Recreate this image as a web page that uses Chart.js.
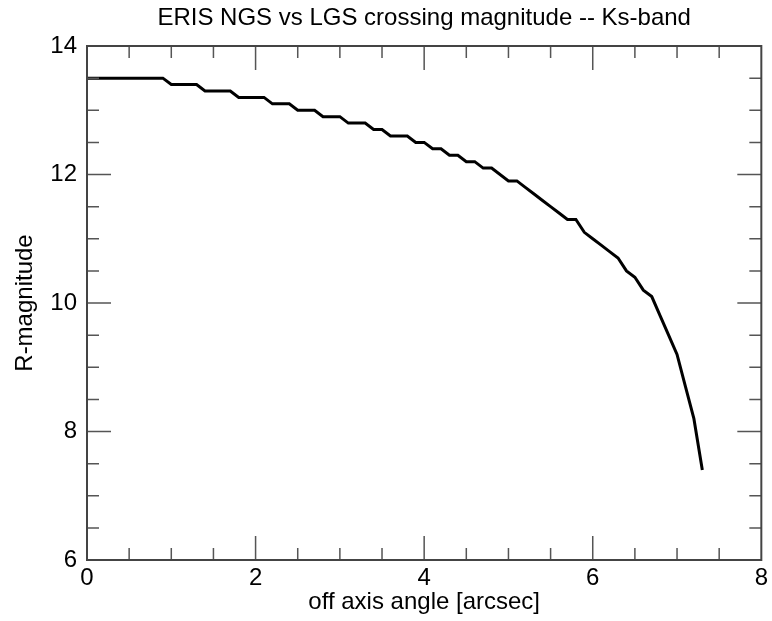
<!DOCTYPE html>
<html>
<head>
<meta charset="utf-8">
<script src="https://cdn.jsdelivr.net/npm/chart.js@4.4.1/dist/chart.umd.min.js"></script>
<style>
  html, body { margin: 0; padding: 0; background: #ffffff; }
  canvas { display: block; }
</style>
</head>
<body>
<canvas id="c" width="772" height="621"></canvas>
<script>
// ---- Data ----
const chartTitle = "ERIS NGS vs LGS crossing magnitude -- Ks-band";
const xAxisTitle = "off axis angle [arcsec]";
const yAxisTitle = "R-magnitude";

const offAxisAngle = [0, 0.9, 1.0, 1.3, 1.4, 1.7, 1.8, 2.1, 2.2, 2.4, 2.5, 2.7, 2.8, 3.0, 3.1, 3.3, 3.4, 3.5, 3.6, 3.8,
  3.9, 4.0, 4.1, 4.2, 4.3, 4.4, 4.5, 4.6, 4.7, 4.8, 5.0, 5.1, 5.2, 5.3, 5.4, 5.5, 5.6, 5.7, 5.8, 5.9,
  6.0, 6.1, 6.2, 6.3, 6.4, 6.5, 6.6, 6.7, 6.8, 6.9, 7.0, 7.1, 7.2, 7.3];
const rMagnitude = [13.5, 13.5, 13.4, 13.4, 13.3, 13.3, 13.2, 13.2, 13.1, 13.1, 13.0, 13.0, 12.9, 12.9, 12.8, 12.8, 12.7, 12.7, 12.6, 12.6,
  12.5, 12.5, 12.4, 12.4, 12.3, 12.3, 12.2, 12.2, 12.1, 12.1, 11.9, 11.9, 11.8, 11.7, 11.6, 11.5, 11.4, 11.3, 11.3, 11.1,
  11.0, 10.9, 10.8, 10.7, 10.5, 10.4, 10.2, 10.1, 9.8, 9.5, 9.2, 8.7, 8.2, 7.4];

const xRange = [0, 8];
const yRange = [6, 14];
const majorStep = 2;
const minorStep = 0.5;

// ---- Chart ----
const FONT = "'Liberation Sans', Arial, Helvetica, sans-serif";

const framePlugin = {
  id: 'frameTicks',
  afterDatasetsDraw(chart) {
    const {ctx, chartArea: a, scales} = chart;
    const xs = scales.x, ys = scales.y;
    ctx.save();
    ctx.strokeStyle = '#555555';
    ctx.lineWidth = 1.5;
    ctx.beginPath();
    const nx = Math.round((xRange[1] - xRange[0]) / minorStep);
    for (let i = 1; i < nx; i++) {
      const v = xRange[0] + i * minorStep;
      const px = xs.getPixelForValue(v);
      const len = (Math.abs(v / majorStep - Math.round(v / majorStep)) < 1e-6) ? 24 : 12;
      ctx.moveTo(px, a.bottom); ctx.lineTo(px, a.bottom - len);
      ctx.moveTo(px, a.top); ctx.lineTo(px, a.top + len);
    }
    const ny = Math.round((yRange[1] - yRange[0]) / minorStep);
    for (let i = 1; i < ny; i++) {
      const v = yRange[0] + i * minorStep;
      const py = ys.getPixelForValue(v);
      const len = (Math.abs(v / majorStep - Math.round(v / majorStep)) < 1e-6) ? 24 : 12;
      ctx.moveTo(a.left, py); ctx.lineTo(a.left + len, py);
      ctx.moveTo(a.right, py); ctx.lineTo(a.right - len, py);
    }
    ctx.stroke();
    ctx.strokeStyle = '#444444';
    ctx.lineWidth = 2;
    ctx.strokeRect(a.left, a.top, a.right - a.left, a.bottom - a.top);
    ctx.restore();
  }
};

new Chart(document.getElementById('c'), {
  type: 'line',
  data: {
    datasets: [{
      data: offAxisAngle.map((x, i) => ({x: x, y: rMagnitude[i]})),
      borderColor: '#000000',
      borderWidth: 3,
      pointRadius: 0,
      tension: 0,
      fill: false,
      clip: false
    }]
  },
  options: {
    responsive: false,
    animation: false,
    layout: { padding: { left: 0, right: 4, top: 0, bottom: 0 } },
    plugins: {
      legend: { display: false },
      tooltip: { enabled: false },
      title: {
        display: true,
        text: chartTitle,
        fullSize: false,
        color: '#000000',
        font: { family: FONT, size: 24, weight: 'normal' },
        padding: { top: 4, bottom: 13.2 }
      }
    },
    scales: {
      x: {
        type: 'linear',
        min: xRange[0], max: xRange[1],
        grid: { display: false, drawTicks: false },
        border: { display: false },
        ticks: { stepSize: majorStep, padding: 4, color: '#000000', font: { family: FONT, size: 24 }, maxRotation: 0 },
        title: { display: true, text: xAxisTitle, color: '#000000', font: { family: FONT, size: 24 }, padding: { top: 0, bottom: 4 } },
        afterFit(scale) { scale.height = 61; }
      },
      y: {
        type: 'linear',
        min: yRange[0], max: yRange[1],
        grid: { display: false, drawTicks: false },
        border: { display: false },
        ticks: { stepSize: majorStep, padding: 10, color: '#000000', font: { family: FONT, size: 24 } },
        title: { display: true, text: yAxisTitle, color: '#000000', font: { family: FONT, size: 24 }, padding: { top: 11, bottom: 0 } },
        afterFit(scale) { scale.width = 87; }
      }
    }
  },
  plugins: [framePlugin]
});
</script>
</body>
</html>
